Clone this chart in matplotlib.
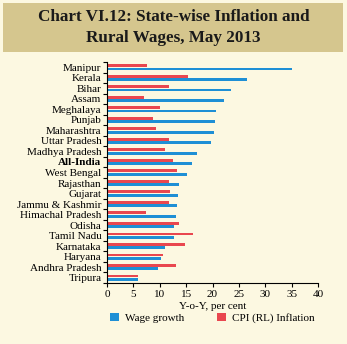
import numpy as np
import matplotlib
matplotlib.use('Agg')
import matplotlib.pyplot as plt
from matplotlib.patches import Rectangle

plt.rcParams['font.family'] = ['Liberation Serif', 'DejaVu Serif']

# Datos
states = ['Manipur', 'Kerala', 'Bihar', 'Assam', 'Meghalaya', 'Punjab',
          'Maharashtra', 'Uttar Pradesh', 'Madhya Pradesh', 'All-India',
          'West Bengal', 'Rajasthan', 'Gujarat', 'Jammu & Kashmir',
          'Himachal Pradesh', 'Odisha', 'Tamil Nadu', 'Karnataka',
          'Haryana', 'Andhra Pradesh', 'Tripura']
wage_growth = [35.1, 26.5, 23.5, 22.1, 20.6, 20.5, 20.2, 19.8, 17.0, 16.2,
               15.1, 13.6, 13.4, 13.2, 13.1, 12.7, 12.7, 11.0, 10.2, 9.6, 5.9]
cpi_rl = [7.5, 15.4, 11.7, 7.0, 10.1, 8.8, 9.3, 11.7, 11.0, 12.6,
          13.3, 11.8, 12.0, 11.8, 7.3, 13.6, 16.3, 14.7, 10.6, 13.1, 5.9]

blue = '#1e8fd5'
red = '#e9474f'
bg = '#fcf8e1'

fig = plt.figure(figsize=(3.47, 3.44), dpi=100, facecolor=bg)

# Caja del titulo
fig.patches.append(Rectangle((3 / 347, 1 - 52 / 344), 340 / 347, 49 / 344,
                             transform=fig.transFigure, facecolor='#d5c68e',
                             edgecolor='none', zorder=0))
fig.text(0.5, 1 - 17 / 344, 'Chart VI.12: State-wise Inflation and',
         ha='center', va='center', fontsize=12.3, fontweight='bold', color='#1a1a1a')
fig.text(0.5, 1 - 38 / 344, 'Rural Wages, May 2013',
         ha='center', va='center', fontsize=12.3, fontweight='bold', color='#1a1a1a')

ax = fig.add_axes([107 / 347, 1 - 283 / 344, 211 / 347, 221 / 344])
ax.set_facecolor('none')

y = np.arange(len(states))
h = 0.27
ax.barh(y - 0.16, cpi_rl, height=h, color=red, label='CPI (RL) Inflation')
ax.barh(y + 0.16, wage_growth, height=h, color=blue, label='Wage growth')

ax.set_ylim(len(states) - 0.5, -0.5)
ax.set_xlim(0, 40)
ax.set_xticks(range(0, 41, 5))
ax.set_yticks(y)
ax.set_yticklabels(states, fontsize=8)
for lbl in ax.get_yticklabels():
    if lbl.get_text() == 'All-India':
        lbl.set_fontweight('bold')
ax.set_yticks(np.arange(-0.5, len(states), 1), minor=True)
ax.tick_params(axis='y', which='major', length=0, pad=4)
ax.tick_params(axis='y', which='minor', length=3, width=0.8, direction='out')
ax.tick_params(axis='x', labelsize=8, length=3, width=0.8, pad=2)

for s in ['top', 'right']:
    ax.spines[s].set_visible(False)
ax.spines['left'].set_linewidth(0.8)
ax.spines['bottom'].set_linewidth(0.8)

ax.set_xlabel('Y-o-Y, per cent', fontsize=8, labelpad=2)

handles, labels = ax.get_legend_handles_labels()
fig.legend(handles[::-1], labels[::-1], loc='center', ncol=2,
           bbox_to_anchor=(0.612, 1 - 318 / 344), frameon=False, fontsize=8,
           handlelength=0.8, handleheight=0.8, columnspacing=3.0,
           handletextpad=0.5)

fig.savefig('out.png', dpi=100, facecolor=bg)
